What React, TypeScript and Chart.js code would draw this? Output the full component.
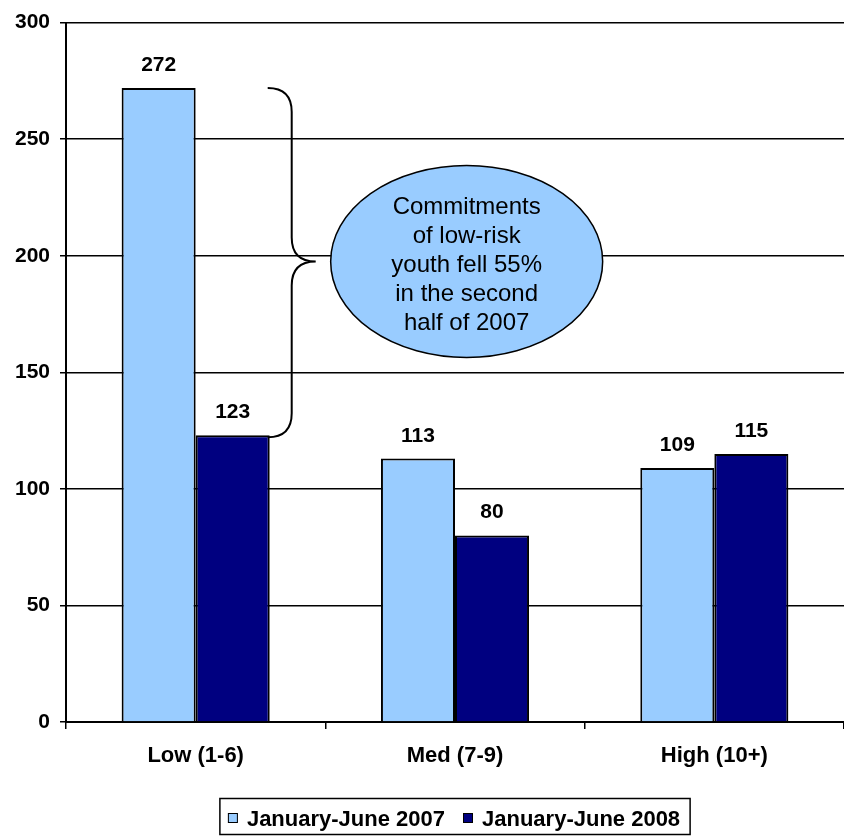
import React, { useEffect, useRef } from "react";
import { Chart, registerables } from "chart.js";

Chart.register(...registerables);

// Risk-score categories and half-year commitment counts
const categories = ["Low (1-6)", "Med (7-9)", "High (10+)"];
const seriesNames = ["January-June 2007", "January-June 2008"];
const values2007 = [272, 113, 109];
const values2008 = [123, 80, 115];
const seriesColors = ["#99CCFF", "#000080"];
const yTicks = [0, 50, 100, 150, 200, 250, 300];

const calloutLines = [
  "Commitments",
  "of low-risk",
  "youth fell 55%",
  "in the second",
  "half of 2007",
];

const FONT = "'Liberation Sans', Arial, Helvetica, sans-serif";

// Bar value labels, the brace + ellipse callout and a boxed legend
const overlayPlugin = {
  id: "overlay",
  afterDatasetsDraw(chart: any) {
    const ctx = chart.ctx as CanvasRenderingContext2D;
    const xScale = chart.scales.x;
    const yScale = chart.scales.y;

    // value labels above each bar
    ctx.save();
    ctx.fillStyle = "#000";
    ctx.font = `bold 21px ${FONT}`;
    ctx.textAlign = "center";
    ctx.textBaseline = "alphabetic";
    chart.data.datasets.forEach((ds: any, di: number) => {
      const meta = chart.getDatasetMeta(di);
      meta.data.forEach((el: any, i: number) => {
        ctx.fillText(String(ds.data[i]), el.x, el.y - 17);
      });
    });
    ctx.restore();

    // brace spanning the two low-risk bars
    const lowHigh = values2007[0];
    const lowNow = values2008[0];
    const darkBar = chart.getDatasetMeta(1).data[0] as any;
    const x0 = darkBar.x + darkBar.width / 2 - 2;
    const xv = x0 + 24;
    const xt = xv + 24;
    const yTop = yScale.getPixelForValue(lowHigh);
    const yBot = yScale.getPixelForValue(lowNow) + 2;
    const yMid = yScale.getPixelForValue((lowHigh + lowNow) / 2);
    const r = 24;
    ctx.save();
    ctx.strokeStyle = "#000";
    ctx.lineWidth = 2;
    ctx.beginPath();
    ctx.moveTo(x0, yTop);
    ctx.quadraticCurveTo(xv, yTop, xv, yTop + r);
    ctx.lineTo(xv, yMid - r);
    ctx.quadraticCurveTo(xv, yMid, xt, yMid);
    ctx.quadraticCurveTo(xv, yMid, xv, yMid + r);
    ctx.lineTo(xv, yBot - r);
    ctx.quadraticCurveTo(xv, yBot, x0, yBot);
    ctx.stroke();
    ctx.restore();

    // ellipse callout
    const cx = xScale.getPixelForValue(1.045);
    const cy = yMid;
    ctx.save();
    ctx.beginPath();
    ctx.ellipse(cx, cy, 136, 96, 0, 0, Math.PI * 2);
    ctx.fillStyle = "#99CCFF";
    ctx.fill();
    ctx.strokeStyle = "#000";
    ctx.lineWidth = 1.5;
    ctx.stroke();
    ctx.fillStyle = "#000";
    ctx.font = `24px ${FONT}`;
    ctx.textAlign = "center";
    ctx.textBaseline = "alphabetic";
    calloutLines.forEach((line, i) => {
      ctx.fillText(line, cx, cy - 48 + i * 29);
    });
    ctx.restore();
  },
  afterDraw(chart: any) {
    const ctx = chart.ctx as CanvasRenderingContext2D;
    const area = chart.chartArea;
    ctx.save();
    ctx.font = `bold 22px ${FONT}`;
    const sw = 10;
    const gapSwatch = 9;
    const gapItem = 18;
    const widths = seriesNames.map((n) => ctx.measureText(n).width);
    const padX = 8;
    const contentW =
      widths.reduce((a, b) => a + b, 0) +
      seriesNames.length * (sw + gapSwatch) +
      gapItem * (seriesNames.length - 1);
    const boxW = contentW + padX * 2 + 2;
    const boxX = (area.left + area.right) / 2 - boxW / 2;
    const boxY = 798.5;
    const boxH = 36;
    ctx.strokeStyle = "#000";
    ctx.lineWidth = 1.5;
    ctx.strokeRect(boxX, boxY, boxW, boxH);

    let x = boxX + padX;
    const baseY = 826;
    ctx.textAlign = "left";
    ctx.textBaseline = "alphabetic";
    seriesNames.forEach((name, i) => {
      ctx.fillStyle = seriesColors[i];
      ctx.fillRect(x, baseY - 13, sw, sw);
      ctx.strokeStyle = "#000";
      ctx.lineWidth = 1;
      ctx.strokeRect(x + 0.5, baseY - 12.5, sw - 1, sw - 1);
      x += sw + gapSwatch;
      ctx.fillStyle = "#000";
      ctx.fillText(name, x, baseY);
      x += widths[i] + gapItem;
    });
    ctx.restore();
  },
};

export default function App() {
  const canvasRef = useRef<HTMLCanvasElement | null>(null);

  useEffect(() => {
    if (!canvasRef.current) return;
    const chart = new Chart(canvasRef.current, {
      type: "bar",
      data: {
        labels: categories,
        datasets: [
          {
            label: seriesNames[0],
            data: values2007,
            backgroundColor: seriesColors[0],
            borderColor: "#000",
            borderWidth: 2,
          },
          {
            label: seriesNames[1],
            data: values2008,
            backgroundColor: seriesColors[1],
            borderColor: "#000",
            borderWidth: 2,
          },
        ],
      },
      options: {
        animation: false,
        responsive: true,
        maintainAspectRatio: false,
        datasets: {
          bar: {
            barPercentage: 1,
            categoryPercentage: 0.571,
          },
        },
        layout: { padding: { top: 22, right: 0, bottom: 0, left: 0 } },
        plugins: {
          legend: { display: false },
          tooltip: { enabled: false },
        },
        scales: {
          x: {
            afterFit: (scale: any) => {
              scale.height = 114;
            },
            grid: {
              offset: true,
              drawOnChartArea: false,
              drawTicks: true,
              tickLength: 7,
              color: "#000",
              lineWidth: 1.5,
            },
            border: { display: true, color: "#000", width: 2 },
            ticks: {
              color: "#000",
              padding: 14,
              font: { family: FONT, size: 22, weight: "bold" },
            },
          },
          y: {
            min: 0,
            max: 300,
            afterFit: (scale: any) => {
              scale.width = 66;
            },
            afterBuildTicks: (scale: any) => {
              scale.ticks = yTicks.map((v) => ({ value: v }));
            },
            grid: {
              color: "#000",
              lineWidth: 1.5,
              drawTicks: true,
              tickLength: 6,
            },
            border: { display: true, color: "#000", width: 2 },
            ticks: {
              color: "#000",
              padding: 10,
              font: { family: FONT, size: 21, weight: "bold" },
            },
          },
        },
      },
      plugins: [overlayPlugin],
    });
    return () => chart.destroy();
  }, []);

  return (
    <div
      style={{
        position: "absolute",
        left: 0,
        top: 0,
        width: 844,
        height: 836,
        background: "#fff",
      }}
    >
      <canvas ref={canvasRef} />
    </div>
  );
}
